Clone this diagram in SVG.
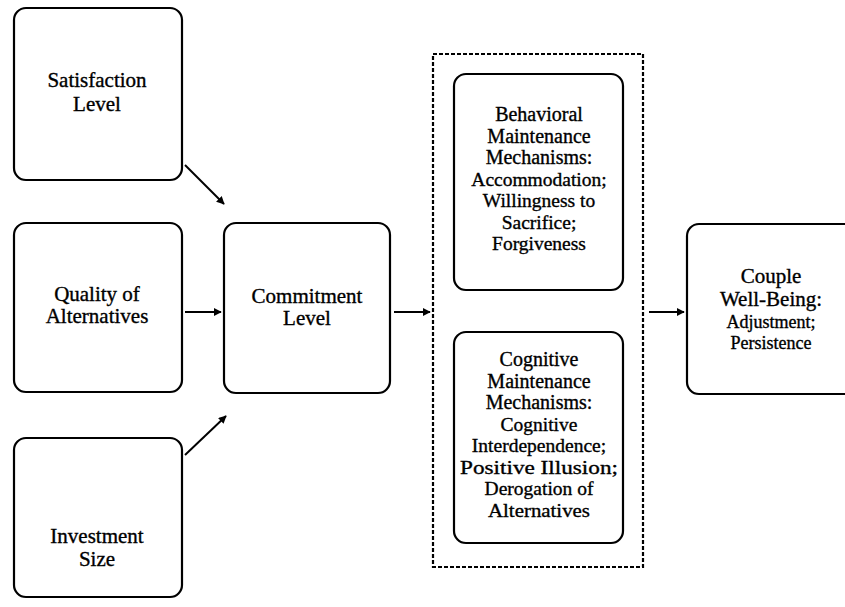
<svg xmlns="http://www.w3.org/2000/svg" width="845" height="607" viewBox="0 0 845 607">
<style>
.box{fill:none;stroke:#000;stroke-width:2.2}
.t{font-family:"Liberation Serif","Times New Roman",serif;fill:#000;text-anchor:middle;stroke:#000;stroke-width:0.35}
.lb{font-size:21px}
.md{font-size:20px}
.sm{font-size:19.5px}
.xs{font-size:18px}
.ln{fill:none;stroke:#000;stroke-width:2}
.dash{fill:none;stroke:#000;stroke-width:2.2;stroke-dasharray:4 2}
</style>
<defs>
<marker id="ah" viewBox="0 0 10 10" refX="9" refY="5" markerWidth="4" markerHeight="4" orient="auto" markerUnits="strokeWidth">
<path d="M0,0 L10,5 L0,10 z" fill="#000"/>
</marker>
</defs>
<rect width="845" height="607" fill="#fff"/>
<g id="satisfaction">
<rect class="box" x="14" y="8" width="168" height="172" rx="12"/>
<text class="t lb" x="97" y="87">Satisfaction</text>
<text class="t lb" x="97" y="111">Level</text>
</g>
<g id="quality">
<rect class="box" x="14" y="223" width="168" height="169" rx="12"/>
<text class="t lb" x="97" y="301">Quality of</text>
<text class="t lb" x="97" y="323">Alternatives</text>
</g>
<g id="investment">
<rect class="box" x="14" y="438" width="168" height="159" rx="12"/>
<text class="t lb" x="97" y="543">Investment</text>
<text class="t lb" x="97" y="566">Size</text>
</g>
<g id="commitment">
<rect class="box" x="224" y="223" width="166" height="170" rx="12"/>
<text class="t lb" x="307" y="303">Commitment</text>
<text class="t lb" x="307" y="325">Level</text>
</g>
<g id="mechanisms">
<rect class="dash" x="433" y="54" width="210" height="513"/>
</g>
<g id="behavioral">
<rect class="box" x="454" y="74" width="169" height="216" rx="12"/>
<text class="t md" x="539" y="121">Behavioral</text>
<text class="t md" x="539" y="142.5">Maintenance</text>
<text class="t md" x="539" y="164">Mechanisms:</text>
<text class="t sm" x="539" y="185.5">Accommodation;</text>
<text class="t sm" x="539" y="207">Willingness to</text>
<text class="t sm" x="539" y="228.5">Sacrifice;</text>
<text class="t sm" x="539" y="250">Forgiveness</text>
</g>
<g id="cognitive">
<rect class="box" x="454" y="332" width="169" height="211" rx="12"/>
<text class="t md" x="539" y="366">Cognitive</text>
<text class="t md" x="539" y="387.5">Maintenance</text>
<text class="t md" x="539" y="409">Mechanisms:</text>
<text class="t sm" x="539" y="430.5">Cognitive</text>
<text class="t sm" x="539" y="452">Interdependence;</text>
<text class="t sm" x="539" y="473.5" textLength="158" lengthAdjust="spacingAndGlyphs">Positive Illusion;</text>
<text class="t sm" x="539" y="495">Derogation of</text>
<text class="t sm" x="539" y="516.5" textLength="102" lengthAdjust="spacingAndGlyphs">Alternatives</text>
</g>
<g id="couple">
<rect class="box" x="687" y="224" width="170" height="170" rx="12"/>
<text class="t lb" x="771" y="283">Couple</text>
<text class="t lb" x="771" y="306">Well-Being:</text>
<text class="t xs" x="771" y="328">Adjustment;</text>
<text class="t xs" x="771" y="349">Persistence</text>
</g>
<g id="connectors">
<line class="ln" x1="185" y1="165" x2="224" y2="204" marker-end="url(#ah)"/>
<line class="ln" x1="185" y1="312" x2="221" y2="312" marker-end="url(#ah)"/>
<line class="ln" x1="185" y1="455" x2="226" y2="416" marker-end="url(#ah)"/>
<line class="ln" x1="394" y1="312" x2="430" y2="312" marker-end="url(#ah)"/>
<line class="ln" x1="649" y1="312" x2="684" y2="312" marker-end="url(#ah)"/>
</g>
</svg>
